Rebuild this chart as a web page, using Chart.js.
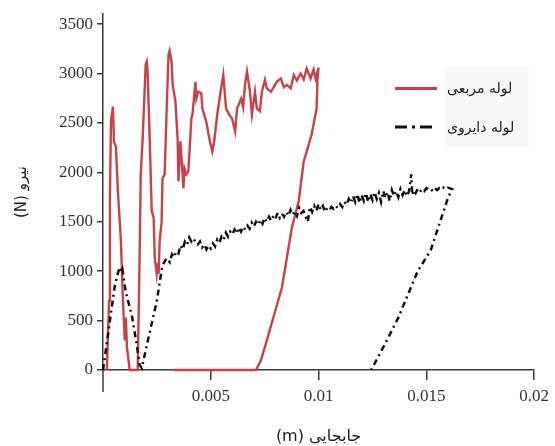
<!DOCTYPE html>
<html lang="fa">
<head>
<meta charset="utf-8">
<title>نیرو - جابجایی</title>
<script src="https://cdn.jsdelivr.net/npm/chart.js@4.4.1/dist/chart.umd.min.js"></script>
<style>
  html, body { margin: 0; padding: 0; background: #fff; }
  .wrap      { position: relative; width: 555px; height: 446px; }
  #forceChart { display: block; }

  .legend-bg {
    position: absolute; left: 445px; top: 67px;
    width: 84px; height: 80px; background: #f8f8f8;
  }
  .legend-row {
    position: absolute; left: 395px; height: 20px;
    display: flex; align-items: center;
    font: 14px "DejaVu Sans", sans-serif; color: #1a1a1a;
  }
  .legend-row .sample { width: 42px; margin-right: 10px; }
  .legend-row .sample.square { height: 3px; background: #c8424a; }
  .legend-row .text { direction: rtl; white-space: nowrap; }
</style>
</head>
<body>
<div class="wrap">
  <canvas id="forceChart" width="555" height="446" dir="rtl"></canvas>
  <div class="legend-bg"></div>
  <div class="legend-row" style="top:78px">
    <span class="sample square"></span>
    <span class="text">لوله مربعی</span>
  </div>
  <div class="legend-row" style="top:117px">
    <svg class="sample" width="42" height="4" viewBox="0 0 42 4">
      <line x1="0" y1="2" x2="42" y2="2" stroke="#111" stroke-width="3"
        stroke-dasharray="12 5 3 5"/>
    </svg>
    <span class="text">لوله دایروی</span>
  </div>
</div>

<script>
// ================================================
//  Force - displacement, square vs circular tube
// ================================================

//  TICKS
const xTicks = [0.005, 0.01, 0.015, 0.02];
const yTicks = [0, 500, 1000, 1500, 2000, 2500, 3000, 3500];

//  SQUARE TUBE (red)  — displacement (m), force (N)
const squareX = [
  0.00018, 0.00028, 0.00032, 0.00037, 0.00046, 0.00051, 0.0006, 0.00069,
  0.00083, 0.00092, 0.00101, 0.00106, 0.00111, 0.00124, 0.00161, 0.00171,
  0.00175, 0.00184, 0.00198, 0.00203, 0.00207, 0.00217, 0.00226, 0.00235,
  0.0024, 0.00249, 0.00253, 0.00258, 0.00263, 0.00272, 0.00276, 0.00286,
  0.00295, 0.00304, 0.00309, 0.00318, 0.00323, 0.00336, 0.00346, 0.0035,
  0.00359, 0.00369, 0.00373, 0.00378, 0.00387, 0.00396, 0.0041, 0.00415,
  0.00429, 0.00433, 0.00442, 0.00456, 0.00461, 0.00479, 0.00493, 0.00507,
  0.00516, 0.0053, 0.00548, 0.00558, 0.00571, 0.00585, 0.00599, 0.00613,
  0.00622, 0.00641, 0.0065, 0.00659, 0.00668, 0.00682, 0.00691, 0.00705,
  0.00714, 0.00728, 0.00737, 0.00751, 0.0076, 0.00779, 0.00793, 0.00806,
  0.00825, 0.00839, 0.00853, 0.00871, 0.00885, 0.00899, 0.00917, 0.00931,
  0.00945, 0.00963, 0.00977, 0.00986, 0.01,
  // unloading
  0.00995, 0.00991, 0.00968, 0.00945, 0.00931, 0.00908, 0.00876, 0.0083,
  0.00756, 0.00733, 0.0071, 0.00327,
];
const squareY = [
  0, 700, 1710, 2515, 2665, 2310, 2260, 1810,
  1310, 735, 300, 530, 230, 0, 0, 1310,
  1980, 2340, 3090, 3120, 3020, 2310, 1610, 1540,
  1140, 975, 1080, 975, 1310, 1500, 1940, 1980,
  2615, 3190, 3230, 3120, 2890, 2715, 2345, 1910,
  2315, 1980, 1840, 2040, 1980, 2010, 2545, 2585,
  2915, 2745, 2815, 2800, 2645, 2515, 2345, 2210,
  2315, 2585, 2850, 2985, 2645, 2585, 2545, 2415,
  2645, 2745, 2660, 2890, 3020, 2815, 2585, 2815,
  2645, 2620, 2815, 2935, 2850, 2815, 2865, 2915,
  2950, 2860, 2885, 2850, 2985, 2930, 3000, 2940,
  3050, 2950, 3040, 2950, 3060,
  2950, 2645, 2385, 2210, 2110, 1710, 1440, 835,
  270, 100, 0, 0,
];

//  CIRCULAR TUBE (black dash-dot)
const circleX = [
  0, 0.0001, 0.00032, 0.00055, 0.0007, 0.00078, 0.00084, 0.0009,
  0.00106, 0.00134, 0.00157, 0.0017, 0.0018, 0.002, 0.00226, 0.0025,
  0.00263, 0.00276, 0.00295, 0.0031, 0.0032, 0.0033, 0.0034, 0.0035,
  0.0036, 0.0037, 0.0038, 0.0039, 0.004, 0.0041, 0.0042, 0.0043,
  0.0044, 0.0045, 0.0046, 0.0047, 0.0048, 0.0049, 0.005, 0.0051,
  0.0052, 0.0053, 0.0054, 0.0055, 0.0056, 0.0057, 0.0058, 0.0059,
  0.006, 0.0061, 0.0062, 0.0063, 0.0064, 0.0065, 0.0066, 0.0067,
  0.0068, 0.0069, 0.007, 0.0071, 0.0072, 0.0073, 0.0074, 0.0075,
  0.0076, 0.0077, 0.0078, 0.0079, 0.008, 0.0081, 0.0082, 0.0083,
  0.0084, 0.0085, 0.0086, 0.0087, 0.0088, 0.0089, 0.009, 0.0091,
  0.0092, 0.0093, 0.0094, 0.0095, 0.0096, 0.0097, 0.0098, 0.0099,
  0.01, 0.0101, 0.0102, 0.0103, 0.0104, 0.0105, 0.0106, 0.0107,
  0.0108, 0.0109, 0.011, 0.0111, 0.0112, 0.0113, 0.0114, 0.0115,
  0.0116, 0.0117, 0.0118, 0.0119, 0.012, 0.0121, 0.0122, 0.0123,
  0.0124, 0.0125, 0.0126, 0.0127, 0.0128, 0.0129, 0.013, 0.0131,
  0.0132, 0.0133, 0.0134, 0.0135, 0.0136, 0.0137, 0.0138, 0.0139,
  0.014, 0.0141, 0.0142, 0.0143, 0.01435, 0.0144, 0.0145, 0.0146,
  0.0147, 0.0148, 0.0149, 0.015, 0.0151, 0.0152, 0.0153, 0.0154,
  0.0155, 0.0156, 0.0157, 0.0158, 0.0159, 0.016, 0.0162,
  // unloading
  0.016, 0.0152, 0.0146, 0.0137, 0.0131, 0.01244,
];
const circleY = [
  0, 150, 500, 855, 985, 1040, 990, 1020,
  785, 550, 250, 50, 20, 220, 470, 700,
  890, 1060, 1130, 1090, 1170, 1140, 1200, 1180,
  1260, 1220, 1300, 1270, 1340, 1300, 1330, 1290,
  1270, 1300, 1240, 1270, 1220, 1260, 1230, 1280,
  1250, 1320, 1290, 1350, 1320, 1390, 1350, 1400,
  1370, 1420, 1380, 1440, 1400, 1450, 1420, 1460,
  1430, 1490, 1450, 1500, 1470, 1520, 1480, 1540,
  1500, 1550, 1510, 1560, 1530, 1590, 1540, 1580,
  1550, 1600, 1560, 1620, 1570, 1610, 1560, 1640,
  1590, 1610, 1550, 1500, 1650, 1600, 1660, 1610,
  1680, 1620, 1660, 1600, 1640, 1620, 1650, 1630,
  1660, 1640, 1680, 1650, 1700, 1670, 1730, 1690,
  1760, 1700, 1780, 1690, 1770, 1710, 1790, 1700,
  1780, 1720, 1800, 1730, 1790, 1700, 1810, 1740,
  1800, 1710, 1820, 1760, 1810, 1750, 1830, 1770,
  1820, 1760, 1810, 1980, 1770, 1820, 1790, 1830,
  1800, 1830, 1810, 1840, 1820, 1830, 1810, 1840,
  1820, 1840, 1825, 1845, 1830, 1845, 1830,
  1740, 1210, 1000, 530, 270, 0,
];

//  STYLE
const AXIS_COLOR = '#3a3a3a';
const TICK_FONT  = { family: '"Liberation Serif", serif', size: 17 };
const TITLE_FONT = { family: '"DejaVu Sans", sans-serif', size: 15 };

const toPoints = (xs, ys) => xs.map((x, i) => ({ x, y: ys[i] }));

// y axis line runs a little below the x axis in the original
const axisTail = {
  id: 'axisTail',
  afterDraw(chart) {
    const { ctx, chartArea } = chart;
    ctx.save();
    ctx.strokeStyle = AXIS_COLOR;
    ctx.lineWidth   = 1.5;
    ctx.beginPath();
    ctx.moveTo(chartArea.left, chartArea.bottom);
    ctx.lineTo(chartArea.left, chartArea.bottom + 22);
    ctx.stroke();
    ctx.restore();
  },
};

new Chart(document.getElementById('forceChart'), {
  type: 'line',
  data: {
    datasets: [
      {
        label:       'لوله دایروی',
        data:        toPoints(circleX, circleY),
        borderColor: '#111',
        borderWidth: 2.5,
        borderDash:  [6, 4, 2, 4],
        pointRadius: 0,
        clip:        false,
        order:       0,
      },
      {
        label:       'لوله مربعی',
        data:        toPoints(squareX, squareY),
        borderColor: '#c8424a',
        borderWidth: 2.4,
        pointRadius: 0,
        clip:        false,
        order:       1,
      },
    ],
  },
  options: {
    responsive: false,
    animation:  false,
    devicePixelRatio: 1,
    layout: { padding: { top: 12, right: 18, bottom: 0, left: 0 } },
    plugins: {
      legend:  { display: false },
      tooltip: { enabled: false },
    },
    scales: {
      x: {
        type: 'linear',
        min:  0,
        max:  0.02,
        afterFit:        s => { s.height = 76; },
        afterBuildTicks: s => { s.ticks = xTicks.map(value => ({ value })); },
        grid:   { drawOnChartArea: false, color: AXIS_COLOR, lineWidth: 1.5, tickLength: 10 },
        border: { color: AXIS_COLOR, width: 1.5 },
        ticks:  {
          font: TICK_FONT, color: '#333', padding: 6, maxRotation: 0,
          callback: v => String(v),
        },
        title: {
          display: true, text: 'جابجایی (m)', font: { ...TITLE_FONT, size: 16 },
          color: '#222', padding: { top: 0, bottom: 0 },
        },
      },
      y: {
        min: 0,
        max: 3600,
        afterFit:        s => { s.width = 103; },
        afterBuildTicks: s => { s.ticks = yTicks.map(value => ({ value })); },
        grid:   { drawOnChartArea: false, color: AXIS_COLOR, lineWidth: 1.5, tickLength: 6 },
        border: { color: AXIS_COLOR, width: 1.5 },
        ticks:  {
          font: TICK_FONT, color: '#333', padding: 4,
          callback: v => String(v),
        },
        title: {
          display: true, text: 'نیرو (N)', font: TITLE_FONT,
          color: '#222', padding: { top: 13, bottom: 0 },
        },
      },
    },
  },
  plugins: [axisTail],
});
</script>
</body>
</html>
